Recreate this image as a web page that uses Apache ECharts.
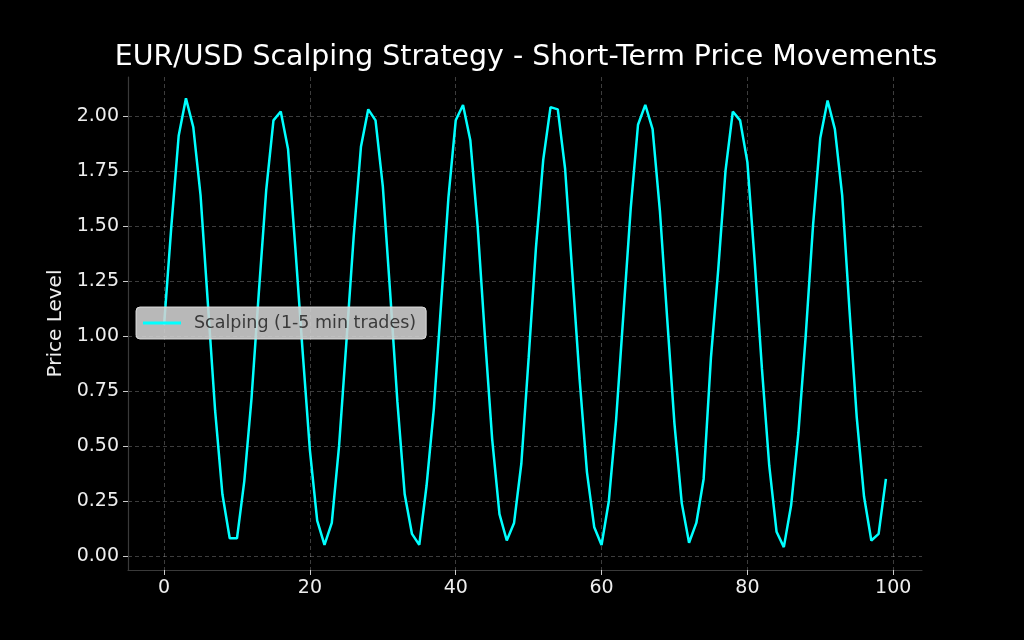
<!DOCTYPE html>
<html>
<head>
<meta charset="utf-8">
<script src="https://cdn.jsdelivr.net/npm/echarts@6/dist/echarts.min.js"></script>
<style>
  html, body { margin: 0; padding: 0; background: #000; }
  #chart { width: 1024px; height: 640px; }
</style>
</head>
<body>
<div id="chart"></div>
<script>
  // price values, one per minute step (0..99)
  var prices = [
    1.05, 1.50, 1.91, 2.08, 1.95, 1.64, 1.15, 0.66, 0.28, 0.08,
    0.08, 0.34, 0.72, 1.20, 1.66, 1.98, 2.02, 1.85, 1.40, 0.93,
    0.48, 0.16, 0.05, 0.15, 0.50, 0.97, 1.45, 1.86, 2.03, 1.98,
    1.68, 1.20, 0.70, 0.28, 0.10, 0.05, 0.32, 0.67, 1.15, 1.63,
    1.98, 2.05, 1.89, 1.50, 1.00, 0.53, 0.19, 0.07, 0.15, 0.42,
    0.90, 1.40, 1.80, 2.04, 2.03, 1.76, 1.28, 0.80, 0.38, 0.13,
    0.05, 0.25, 0.62, 1.10, 1.58, 1.96, 2.05, 1.94, 1.57, 1.08,
    0.60, 0.24, 0.06, 0.15, 0.35, 0.90, 1.30, 1.75, 2.02, 1.98,
    1.79, 1.34, 0.85, 0.41, 0.11, 0.04, 0.23, 0.56, 1.00, 1.50,
    1.90, 2.07, 1.94, 1.64, 1.12, 0.63, 0.27, 0.07, 0.10, 0.35
  ];
  var xTicks = [0, 20, 40, 60, 80, 100];
  var yTicks = [0, 0.25, 0.5, 0.75, 1.0, 1.25, 1.5, 1.75, 2.0];
  var seriesName = "Scalping (1-5 min trades)";

  var points = [];
  for (var i = 0; i < prices.length; i++) {
    points.push([i, prices[i]]);
  }

  var gridLine = { show: true, lineStyle: { color: "rgba(255,255,255,0.3)", type: [4, 3], width: 0.8 } };
  var axisLine = { show: true, onZero: false, lineStyle: { color: "#3a3a3a", width: 1.2 } };
  var tickStyle = { show: true, length: 5, lineStyle: { color: "#cccccc", width: 1 } };
  var labelStyle = { color: "#eeeeee", fontSize: 19, fontFamily: "DejaVu Sans" };

  var myChart = echarts.init(document.getElementById("chart"), null, { renderer: "canvas" });
  myChart.setOption({
    backgroundColor: "#000000",
    animation: false,
    title: {
      text: "EUR/USD Scalping Strategy - Short-Term Price Movements",
      left: 521,
      textAlign: "center",
      top: 39,
      textStyle: { color: "#ffffff", fontSize: 28.4, fontWeight: "normal", fontFamily: "DejaVu Sans" }
    },
    legend: {
      data: [{ name: seriesName, icon: "rect" }],
      left: 136,
      top: 307,
      orient: "vertical",
      backgroundColor: "rgba(210,210,210,0.88)",
      borderColor: "rgba(225,225,225,0.9)",
      borderWidth: 1,
      borderRadius: 4,
      padding: [7, 10, 7, 7],
      itemWidth: 38,
      itemHeight: 3,
      itemGap: 0,
      textStyle: { color: "#3a3a3a", fontSize: 17.5, fontFamily: "DejaVu Sans", padding: [0, 0, 0, 8] }
    },
    grid: { left: 128, right: 102, top: 77, bottom: 70, containLabel: false },
    xAxis: {
      type: "value",
      min: -4.95,
      max: 103.95,
      axisLine: axisLine,
      axisTick: Object.assign({ customValues: xTicks }, tickStyle),
      axisLabel: Object.assign({ customValues: xTicks, margin: 9 }, labelStyle),
      splitLine: Object.assign({ customValues: xTicks }, gridLine)
    },
    yAxis: {
      type: "value",
      min: -0.064,
      max: 2.177,
      name: "Price Level",
      nameLocation: "middle",
      nameGap: 62,
      nameTextStyle: { color: "#eeeeee", fontSize: 20, fontFamily: "DejaVu Sans" },
      axisLine: axisLine,
      axisTick: Object.assign({ customValues: yTicks }, tickStyle),
      axisLabel: Object.assign({
        customValues: yTicks,
        margin: 9,
        formatter: function (v) { return v.toFixed(2); }
      }, labelStyle),
      splitLine: Object.assign({ customValues: yTicks }, gridLine)
    },
    series: [
      {
        name: seriesName,
        type: "line",
        data: points,
        showSymbol: false,
        symbol: "none",
        lineStyle: { color: "#00ffff", width: 2.5 },
        itemStyle: { color: "#00ffff" },
        z: 3
      }
    ]
  });
</script>
</body>
</html>
